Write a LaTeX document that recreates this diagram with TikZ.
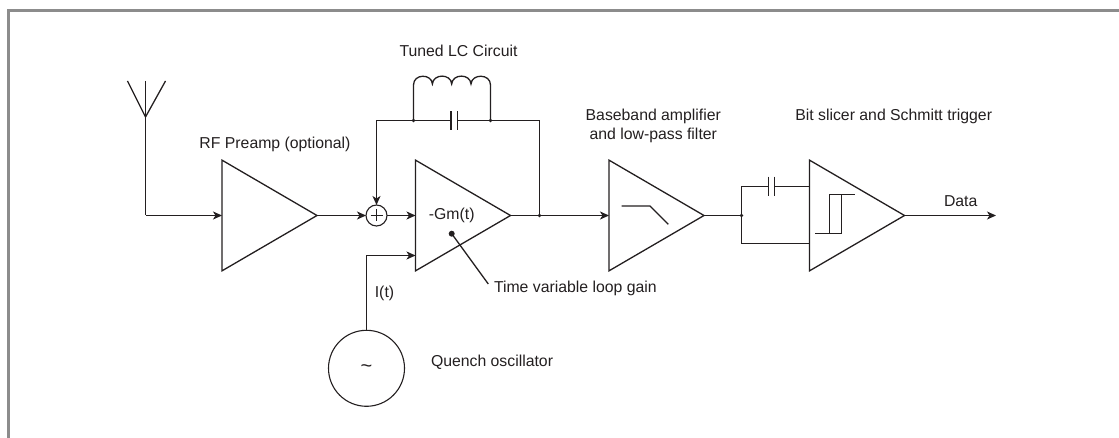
\documentclass[tikz,border=0pt]{standalone}
\usepackage{fontspec}
\setmainfont{Liberation Sans}
\usetikzlibrary{arrows.meta,shapes.geometric,calc}
\definecolor{ink}{HTML}{231F20}
\definecolor{framec}{HTML}{8C8C8C}
\tikzset{
  wire/.style={draw=ink,line width=1.3pt,line cap=butt,line join=miter},
  feed/.style={wire,-{Stealth[length=9pt,width=8pt,inset=2.5pt]}},
  amp/.style={isosceles triangle,isosceles triangle stretches,draw=ink,line width=1.3pt,
    minimum height=95pt,minimum width=110.7pt,inner sep=0pt,outer sep=0pt,anchor=lower side,shape border rotate=0},
  lbl/.style={text=ink,font=\fontsize{15.8pt}{19pt}\selectfont,inner sep=0pt,outer sep=0pt,align=center},
  junc/.style={circle,fill=ink,inner sep=0pt,minimum size=3.8pt},
}
\begin{document}
\begin{tikzpicture}[x=1pt,y=-1pt]
\useasboundingbox (0,0) rectangle (1119,438);
% frame
\draw[framec,line width=2.8pt] (8.5,438) -- (8.5,10.4) -- (1119,10.4);
% antenna
\coordinate (antL) at (127.5,81);
\coordinate (antC) at (145.5,81);
\coordinate (antR) at (165.5,81);
\coordinate (antA) at (145.5,117);
\coordinate (antB) at (145.5,215.5);
\draw[wire,line join=miter] (antL) -- (antA) -- (antR);
\draw[wire] (antC) -- (antA);
% amplifiers
\node[amp] (pre) at (222,215.5) {};
\node[amp] (gm) at (415.5,215.5) {};
\node[amp] (bb) at (609,215.5) {};
\node[amp] (sl) at (809.5,215.5) {};
% summer
\node[circle,draw=ink,line width=1.1pt,minimum size=21pt,inner sep=0pt,outer sep=0pt] (sum) at (376.5,215.5) {};
\draw[ink,line width=1pt] ($(sum)+(-6,0)$) -- ($(sum)+(6,0)$) ($(sum)+(0,-6)$) -- ($(sum)+(0,6)$);
% main path
\draw[wire] (antA) -- (antB);
\draw[feed] (antB) -- (pre.lower side);
\draw[feed] (pre.apex) -- (sum.west);
\draw[feed] (sum.east) -- (gm.lower side);
\draw[feed] (gm.apex) -- (bb.lower side);
% feedback
\coordinate (fbL) at (376.5,120.5);
\node[junc] (j1) at (413.5,120.5) {};
\node[junc] (j2) at (490.5,120.5) {};
\coordinate (fbR) at (539.5,120.5);
\node[junc] (j3) at (539.5,215.5) {};
\coordinate (c1a) at (451,120.5);
\coordinate (c1b) at (457.6,120.5);
\draw[feed] (j1.center) -- (fbL) -- (sum.north);
\draw[wire] (j1.center) -- (c1a);
\draw[wire] (c1b) -- (j2.center) -- (fbR) -- (j3.center);
\draw[wire] (451,111.5) -- (451,130.5);
\draw[wire] (457.6,111.5) -- (457.6,130.5);
% inductor
\draw[wire] (j1.center) -- (413.5,85)
  .. controls (413.5,73.5) and (431.7,73.5) .. (432.4,84)
  .. controls (433.1,73.5) and (451,73.5) .. (451.7,84)
  .. controls (452.4,73.5) and (470.3,73.5) .. (471,84)
  .. controls (471.7,73.5) and (490.5,73.5) .. (490.5,85) -- (j2.center);
% Gm, gain pointer
\node[lbl] (gmt) at (451.7,215.8) {-Gm(t)};
\node[circle,fill=ink,inner sep=0pt,minimum size=6pt] (gdot) at (451.7,233.7) {};
\coordinate (gend) at (488.3,284);
\draw[wire] (gdot.center) -- (gend);
\node[lbl,anchor=west] (tv) at (494,288.7) {Time variable loop gain};
% oscillator
\node[circle,draw=ink,line width=1.1pt,minimum size=76pt,inner sep=0pt,outer sep=0pt,text=ink,font=\fontsize{20pt}{20pt}\selectfont] (osc) at (366.5,368.3) {\textasciitilde};
\coordinate (ibend) at (366.5,255.5);
\coordinate (iin) at (415.5,255.5);
\draw[feed] (osc.north) -- (ibend) -- (iin);
\node[lbl] (it) at (384.5,293) {I(t)};
\node[lbl,anchor=west] (qo) at (431,362.7) {Quench oscillator};
% LP symbol
\coordinate (lp1) at (621.7,206);
\coordinate (lp2) at (650,206);
\coordinate (lp3) at (668.3,224.3);
\draw[wire] (lp1) -- (lp2) -- (lp3);
% slicer inputs
\node[junc] (j4) at (741.5,215.5) {};
\draw[wire] (bb.apex) -- (j4.center);
\coordinate (up) at (741.5,186.5);
\coordinate (dn) at (741.5,243.5);
\coordinate (slU) at (809.5,186.5);
\coordinate (slD) at (809.5,243.5);
\coordinate (c2a) at (768.6,186.5);
\coordinate (c2b) at (774.4,186.5);
\draw[wire] (j4.center) -- (up) -- (c2a);
\draw[wire] (c2b) -- (slU);
\draw[wire] (768.6,176.7) -- (768.6,195.9);
\draw[wire] (774.4,176.7) -- (774.4,195.9);
\draw[wire] (j4.center) -- (dn) -- (slD);
% hysteresis
\draw[wire] (815,233.5) -- (841.5,233.5) -- (841.5,194.5);
\draw[wire] (829.5,233.5) -- (829.5,194.5) -- (855.3,194.5);
% output
\coordinate (out) at (996,215.5);
\draw[feed] (sl.apex) -- (out);
% labels
\node[lbl] (l1) at (275,144) {RF Preamp (optional)};
\node[lbl] (l2) at (458.5,50.7) {Tuned LC Circuit};
\node[lbl] (l3) at (653.3,125.5) {Baseband amplifier\\and low-pass filter};
\node[lbl] (l4) at (893.7,116.7) {Bit slicer and Schmitt trigger};
\node[lbl] (l5) at (960.7,200.7) {Data};
\end{tikzpicture}
\end{document}
